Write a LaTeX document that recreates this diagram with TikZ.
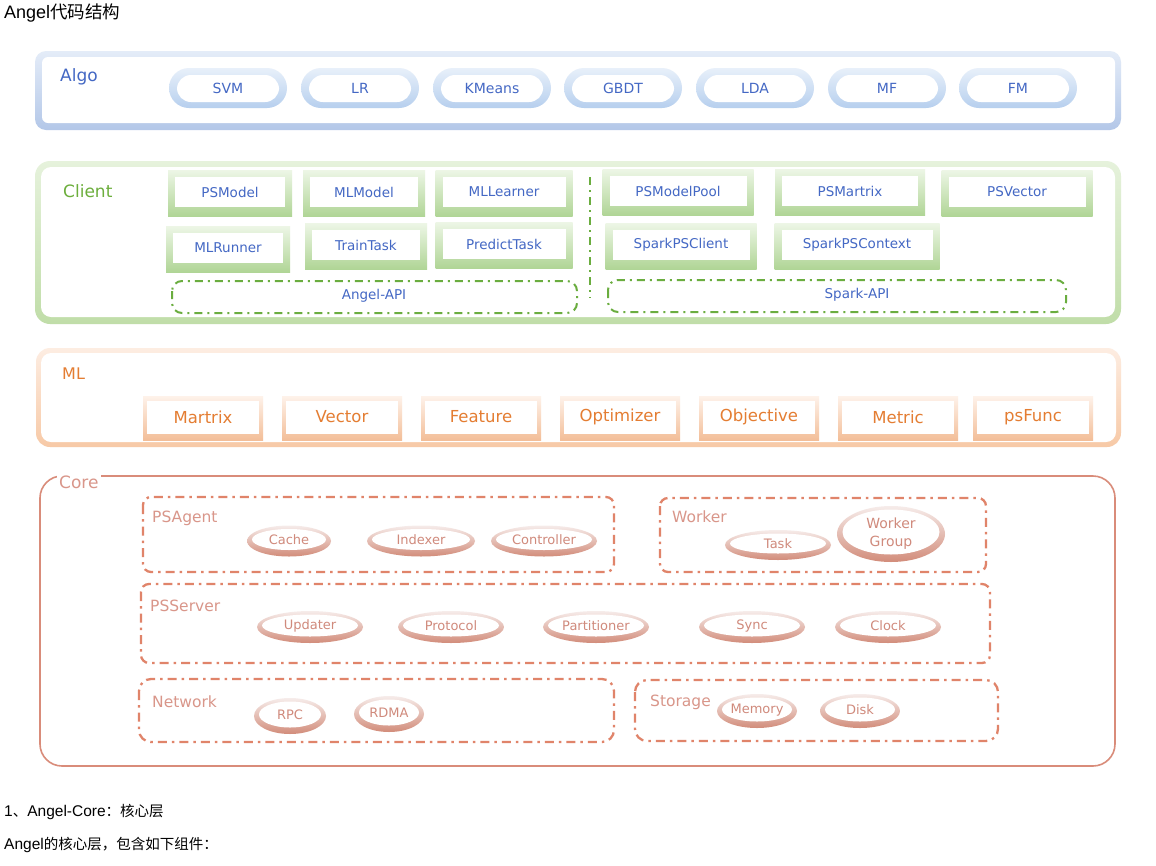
\documentclass[tikz,border=0pt]{standalone}
\usepackage{fontspec}
\setmainfont{DejaVu Sans}
\newfontfamily\cjk{Noto Sans CJK SC}
\newfontfamily\lib{Liberation Sans}
\definecolor{txtblue}{HTML}{4468C4}
\definecolor{algoT}{HTML}{E4ECF8}
\definecolor{algoB}{HTML}{B3C7E8}
\definecolor{pillT}{HTML}{E8F0FA}
\definecolor{pillB}{HTML}{B6CFEE}
\definecolor{grT}{HTML}{E6F2DC}
\definecolor{grB}{HTML}{C0DDA8}
\definecolor{gnT}{HTML}{EDF6E6}
\definecolor{gnB}{HTML}{B0D596}
\definecolor{txtgreen}{HTML}{6CAE3C}
\definecolor{dashgreen}{HTML}{6AAD3F}
\definecolor{orT}{HTML}{FDEDE2}
\definecolor{orB}{HTML}{F7C9A6}
\definecolor{onT}{HTML}{FEF2EA}
\definecolor{onB}{HTML}{F3BE98}
\definecolor{txtorange}{HTML}{E47D32}
\definecolor{coreline}{HTML}{D98C7A}
\definecolor{coredash}{HTML}{E0846A}
\definecolor{coretxt}{HTML}{D9968A}
\definecolor{eltxt}{HTML}{D08A7C}
\definecolor{elT}{HTML}{F6ECEA}
\definecolor{elB}{HTML}{D28C7A}
\tikzset{
  algotxt/.style={text=txtblue, font=\fontsize{14}{16}\selectfont, inner sep=0pt},
  clitxt/.style={text=txtblue, font=\fontsize{13.5}{15}\selectfont, inner sep=0pt},
  mltxt/.style={text=txtorange, font=\fontsize{16.5}{18}\selectfont, inner sep=0pt},
  seclabel/.style={anchor=west, inner sep=1pt, font=\fontsize{17}{19}\selectfont},
  greendash/.style={draw=dashgreen, line width=2pt, dash pattern=on 8pt off 5pt on 2pt off 5pt},
  corebox/.style={draw=coredash, line width=2.3pt, dash pattern=on 9pt off 5pt on 2.5pt off 5pt, rounded corners=8pt},
  coresub/.style={anchor=west, text=coretxt, inner sep=0pt, font=\fontsize{15.5}{17}\selectfont},
  eltext/.style={text=eltxt, inner sep=0pt, font=\fontsize{13}{14}\selectfont},
  body/.style={anchor=west, inner sep=0pt, font=\cjk\fontsize{14.5}{16}\selectfont}
}
\begin{document}
\begin{tikzpicture}[x=1pt,y=-1pt]
\useasboundingbox (0,0) rectangle (1156,865);
\fill[white] (0,0) rectangle (1156,865);

% title
\node[anchor=west, inner sep=0pt, font=\cjk\fontsize{17.5}{19}\selectfont] (title) at (4,13) {{\lib\fontsize{18}{19}\selectfont Angel}代码结构};

% ---------- Algo ----------
\shade[rounded corners=11pt, top color=algoT, bottom color=algoB] (35,51) rectangle (1121,130);
\fill[white, rounded corners=6pt] (42,57) rectangle (1115,123);
\node[seclabel, text=txtblue] (algo) at (59,77) {Algo};
\foreach \x/\n/\t in {228/svm/SVM, 360/lr/LR, 492/kmeans/KMeans, 623/gbdt/GBDT, 755/lda/LDA, 887/mf/MF, 1018/fm/FM}{
  \shade[rounded corners=20pt, top color=pillT, bottom color=pillB] (\x-59,68) rectangle (\x+59,108);
  \fill[white, rounded corners=14pt] (\x-51,75) rectangle (\x+51,102);
  \node[algotxt] (\n) at (\x,88) {\t};
}

% ---------- Client ----------
\shade[rounded corners=15pt, top color=grT, bottom color=grB] (35,161) rectangle (1121,324);
\fill[white, rounded corners=10pt] (41,167) rectangle (1115,317);
\node[seclabel, text=txtgreen] (client) at (62,191) {Client};
\foreach \x/\y/\w/\n/\t in {
  230/193/124/psmodel/PSModel, 364/193/122/mlmodel/MLModel, 504/193/137/mllearner/MLLearner,
  678/192/151/psmodelpool/PSModelPool, 850/192/150/psmartrix/PSMartrix, 1017/193/151/psvector/PSVector,
  228/249/124/mlrunner/MLRunner, 366/246/122/traintask/TrainTask, 504/245/137/predicttask/PredictTask,
  681/246/151/sparkpsclient/SparkPSClient, 857/246/165/sparkpscontext/SparkPSContext}{
  \shade[top color=gnT, bottom color=gnB] (\x-\w/2,\y-23) rectangle (\x+\w/2,\y+23);
  \fill[white] (\x-\w/2+7,\y-16) rectangle (\x+\w/2-7,\y+14);
  \node[clitxt] (\n) at (\x,\y-1) {\t};
}
\draw[greendash, rounded corners=10pt] (172,281) rectangle (577,313);
\node[clitxt] (angelapi) at (374,296) {Angel-API};
\draw[greendash, rounded corners=10pt] (608,280) rectangle (1066,312);
\node[clitxt] (sparkapi) at (857,295) {Spark-API};
\coordinate (vtop) at (590,177);
\coordinate (vbot) at (590,298);
\draw[greendash] (vtop) -- (vbot);

% ---------- ML ----------
\shade[rounded corners=14pt, top color=orT, bottom color=orB] (36,348) rectangle (1121,447);
\fill[white, rounded corners=10pt] (41,353) rectangle (1116,442);
\node[seclabel, text=txtorange, font=\fontsize{16}{18}\selectfont] (ml) at (61,374) {ML};
\foreach \x/\n/\t in {203/martrix/Martrix, 342/vector/Vector, 481/feature/Feature, 620/optimizer/Optimizer, 759/objective/Objective, 898/metric/Metric, 1033/psfunc/psFunc}{
  \shade[top color=onT, bottom color=onB] (\x-60,396) rectangle (\x+60,440);
  \fill[white] (\x-56,401) rectangle (\x+56,434);
  \node[mltxt] (\n) at (\x,417) {\t};
}

% ---------- Core ----------
\draw[coreline, line width=1.6pt, rounded corners=22pt] (40,476) rectangle (1115,766);
\node[anchor=west, fill=white, inner sep=2pt, text=coretxt, font=\fontsize{17}{19}\selectfont] (core) at (57,482) {Core};

\draw[corebox] (143,497) rectangle (614,572);
\node[coresub] (psagent) at (152,518) {PSAgent};
\draw[corebox] (660,498) rectangle (986,572);
\node[coresub] (worker) at (672,517) {Worker};
\draw[corebox] (141,584) rectangle (990,663);
\node[coresub] (psserver) at (150,606) {PSServer};
\draw[corebox, rounded corners=12pt] (139,679) rectangle (614,742);
\node[coresub] (network) at (152,702) {Network};
\draw[corebox, rounded corners=12pt] (635,680) rectangle (998,741);
\node[coresub] (storage) at (650,702) {Storage};

\foreach \x/\y/\w/\h/\n/\t in {
  289/541/84/31/cache/Cache, 421/541/108/31/indexer/Indexer, 544/541/106/31/controller/Controller,
  778/545/106/30/task/Task,
  310/627/106/32/updater/Updater, 451/627/106/32/protocol/Protocol, 596/627/106/32/partitioner/Partitioner,
  752/627/106/32/sync/Sync, 888/627/106/32/clock/Clock,
  290/716/72/36/rpc/RPC, 389/714/70/36/rdma/RDMA, 757/711/80/34/memory/Memory, 860/711/80/34/disk/Disk}{
  \shade[top color=elT, bottom color=elB] (\x,\y) ellipse [x radius=\w/2, y radius=\h/2];
  \fill[white] (\x,\y-1.5) ellipse [x radius=\w/2-5, y radius=\h/2-5];
  \node[eltext] (\n) at (\x,\y-1) {\t};
}
\shade[top color=elT, bottom color=elB] (891,534) ellipse [x radius=54, y radius=28];
\fill[white] (891,532) ellipse [x radius=48.5, y radius=22.5];
\node[eltext, align=center, font=\fontsize{14}{18}\selectfont] (workergroup) at (891,534) {Worker\\Group};

% bottom text
\node[body] (line1) at (4,812) {{\lib\fontsize{15.5}{16}\selectfont 1}、{\lib\fontsize{15.5}{16}\selectfont Angel-Core}：核心层};
\node[body] (line2) at (4,845) {{\lib\fontsize{15.5}{16}\selectfont Angel}的核心层，包含如下组件：};
\end{tikzpicture}
\end{document}
